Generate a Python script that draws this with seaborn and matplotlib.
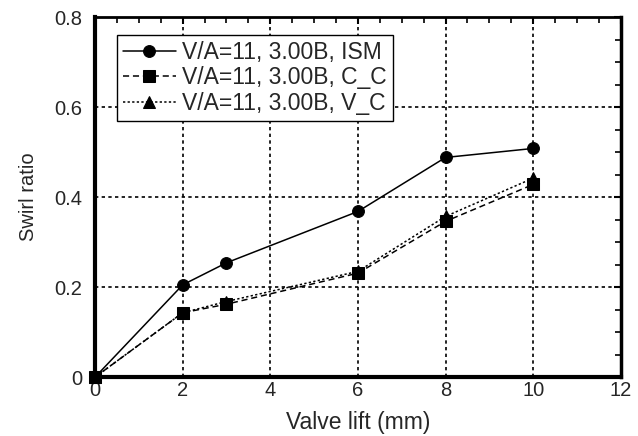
import pandas as pd
import seaborn as sns
import matplotlib
matplotlib.use('Agg')
import matplotlib.pyplot as plt
from matplotlib.ticker import MultipleLocator, FuncFormatter

# valve lift (mm) and swirl ratio for each case
lift = [0, 2, 3, 6, 8, 10]
ism = [0.0, 0.205, 0.254, 0.368, 0.488, 0.508]
c_c = [0.0, 0.143, 0.162, 0.231, 0.346, 0.428]
v_c = [0.0, 0.143, 0.168, 0.235, 0.357, 0.442]
names = ['V/A=11, 3.00B, ISM', 'V/A=11, 3.00B, C_C', 'V/A=11, 3.00B, V_C']

df = pd.DataFrame({
    'lift': lift * 3,
    'swirl': ism + c_c + v_c,
    'case': [names[0]] * 6 + [names[1]] * 6 + [names[2]] * 6,
})

sns.set_style('white')
plt.rcParams['font.family'] = ['Liberation Sans', 'DejaVu Sans']

fig = plt.figure(figsize=(6.38, 4.36), dpi=100)
ax = fig.add_axes([0.149, 0.135, 0.824, 0.826])

sns.lineplot(data=df, x='lift', y='swirl', hue='case', style='case',
             palette=['black'] * 3, dashes=['', (4, 2.5), (1.5, 1.5)],
             markers=['o', 's', '^'], markersize=8.5, markeredgecolor='black',
             linewidth=1.1, ax=ax, zorder=3, clip_on=False)

ax.set_xlim(0, 12)
ax.set_ylim(0, 0.8)
ax.xaxis.set_major_locator(MultipleLocator(2))
ax.xaxis.set_minor_locator(MultipleLocator(0.5))
ax.yaxis.set_major_locator(MultipleLocator(0.2))
ax.yaxis.set_minor_locator(MultipleLocator(0.05))
ax.yaxis.set_major_formatter(FuncFormatter(lambda v, p: '%g' % round(v, 2)))
ax.xaxis.set_major_formatter(FuncFormatter(lambda v, p: '%g' % v))

ax.grid(True, which='major', color='black', linestyle=(0, (2, 2)), linewidth=1.2)
ax.tick_params(which='both', direction='in', top=True, right=True, color='black',
               labelsize=14.5)
ax.tick_params(which='major', length=5, width=1.5)
ax.tick_params(which='minor', length=4, width=1.2)
ax.tick_params(axis='y', pad=9)
ax.tick_params(axis='x', pad=3)

for side, lw in [('left', 3), ('bottom', 3), ('right', 2.5), ('top', 2)]:
    ax.spines[side].set_color('black')
    ax.spines[side].set_linewidth(lw)
    ax.spines[side].set_visible(True)

ax.set_xlabel('Valve lift (mm)', fontsize=16.5, labelpad=8)
ax.set_ylabel('Swirl ratio', fontsize=14.5, labelpad=12)

leg = ax.legend(loc='upper left', bbox_to_anchor=(0.042, 0.95), fontsize=16.5,
                frameon=True, fancybox=False, framealpha=1, edgecolor='black',
                handlelength=2.3, handletextpad=0.3, borderpad=0.25,
                labelspacing=0.12, borderaxespad=0)
leg.get_frame().set_linewidth(1.0)

fig.savefig('out.png', dpi=100)
